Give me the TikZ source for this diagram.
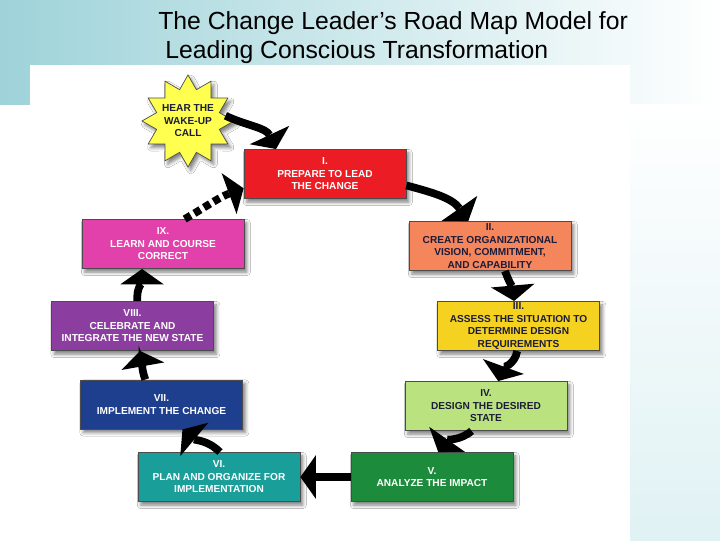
\documentclass[tikz,border=0pt]{standalone}
\usepackage{fontspec}
\setmainfont{Liberation Sans}
\usetikzlibrary{arrows.meta,shapes.geometric,shadows.blur}

\definecolor{bandteal}{RGB}{158,211,217}
\definecolor{stripteal}{RGB}{178,222,227}
\definecolor{darktext}{RGB}{28,28,58}
\definecolor{callyellow}{RGB}{255,255,80}
\definecolor{prepred}{RGB}{236,28,36}
\definecolor{createorange}{RGB}{245,134,92}
\definecolor{assessyellow}{RGB}{245,210,32}
\definecolor{designgreen}{RGB}{186,226,126}
\definecolor{analyzegreen}{RGB}{28,140,60}
\definecolor{planteal}{RGB}{26,158,154}
\definecolor{implblue}{RGB}{30,62,142}
\definecolor{celebpurple}{RGB}{140,62,160}
\definecolor{learnpink}{RGB}{226,64,170}

\newcommand{\roadfont}{\fontsize{7.2}{8.9}\selectfont\bfseries}
\newcommand{\headfont}{\fontsize{17.6}{21}\selectfont}

\begin{document}
\begin{tikzpicture}[x=0.025cm, y=-0.025cm]

\tikzstyle{roadbox} = [rectangle, draw=black!70, line width=0.5pt, minimum width=4.05cm, minimum height=1.23cm, inner sep=1pt, align=center, font=\roadfont, text=white, blur shadow={shadow xshift=2pt, shadow yshift=-2.5pt, shadow blur radius=2.5pt, shadow opacity=50}]
\tikzstyle{roadarrow} = [line width=5.5pt, -{Triangle[width=31pt,length=11pt,line width=0pt]}]

% slide background
\useasboundingbox (0,0) rectangle (720,540);
\fill[white] (0,0) rectangle (720,540);
\shade[left color=bandteal, right color=white] (0,0) rectangle (720,104);
\shade[top color=white, middle color=stripteal, bottom color=stripteal!40] (630,104) rectangle (720,540);
\fill[white] (30,65) rectangle (630,540);

\node[anchor=base west, inner sep=0pt, font=\headfont] (title1) at (158,29) {The Change Leader’s Road Map Model for};
\node[anchor=base west, inner sep=0pt, font=\headfont] (title2) at (165,58) {Leading Conscious Transformation};

% wake-up call
\node[star, star points=12, star point ratio=1.42, minimum size=2.3cm, inner sep=-6pt, fill=callyellow, draw=black!70, line width=0.5pt, align=center, font=\roadfont, text=darktext, blur shadow={shadow xshift=2pt, shadow yshift=-2.5pt, shadow blur radius=2.5pt, shadow opacity=50}] (call) at (188,121) {HEAR THE\\WAKE-UP\\CALL};

% the nine stages
\node[roadbox, fill=prepred] (prepare) at (325,174) {I.\\PREPARE TO LEAD\\THE CHANGE};
\node[roadbox, fill=createorange, text=darktext] (create) at (490,246) {II.\\CREATE ORGANIZATIONAL\\VISION, COMMITMENT,\\AND CAPABILITY};
\node[roadbox, fill=assessyellow, text=darktext] (assess) at (518.5,326) {III.\\ASSESS THE SITUATION TO\\DETERMINE DESIGN\\REQUIREMENTS};
\node[roadbox, fill=designgreen, text=darktext] (design) at (486,406) {IV.\\DESIGN THE DESIRED\\STATE};
\node[roadbox, fill=analyzegreen] (analyze) at (432,477) {V.\\ANALYZE THE IMPACT};
\node[roadbox, fill=planteal] (plan) at (219,477) {VI.\\PLAN AND ORGANIZE FOR\\IMPLEMENTATION};
\node[roadbox, fill=implblue] (implement) at (161.5,404.5) {VII.\\IMPLEMENT THE CHANGE};
\node[roadbox, fill=celebpurple] (celebrate) at (132.5,326) {VIII.\\CELEBRATE AND\\INTEGRATE THE NEW STATE};
\node[roadbox, fill=learnpink] (learn) at (163,244) {IX.\\LEARN AND COURSE\\CORRECT};

% connectors
\draw[roadarrow] (call.8) to[out=-25, in=115] (prepare.153);
\draw[roadarrow] (prepare.-8) to[out=-15, in=125] (create.131);
\draw[roadarrow] (create.-59) to[out=-70, in=95] (assess.100);
\draw[roadarrow] (assess.-93) to[out=-100, in=70] (design.64);
\draw[roadarrow] (design.-120) to[out=-140, in=55] (analyze.76);
\draw[roadarrow] (analyze.west) -- (plan.east);
\draw[roadarrow] (plan.88) to[out=135, in=-40] (implement.-50);
\draw[roadarrow] (implement.123) to[out=110, in=-80] (celebrate.-73);
\draw[roadarrow] (celebrate.79) to[out=95, in=-90] (learn.-130);
\draw[roadarrow, dash pattern=on 5pt off 3pt] (learn.49) to[out=30, in=-160] (prepare.-170);
\end{tikzpicture}
\end{document}
